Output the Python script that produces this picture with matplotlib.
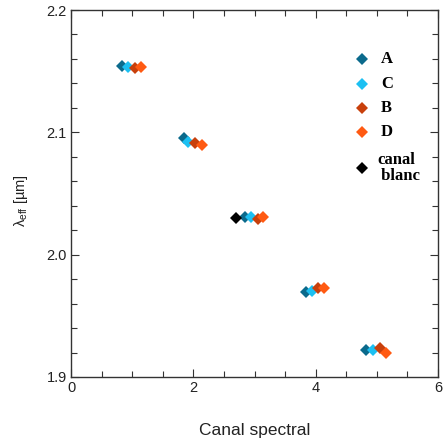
import matplotlib
matplotlib.use("Agg")
import matplotlib.pyplot as plt
from matplotlib.ticker import MultipleLocator, FormatStrFormatter

plt.rcParams["mathtext.fontset"] = "custom"
plt.rcParams["mathtext.rm"] = "Liberation Sans"
plt.rcParams["mathtext.it"] = "Liberation Sans"
plt.rcParams["mathtext.bf"] = "Liberation Sans:bold"

# Data
x_A = [0.84, 1.84, 2.84, 3.84, 4.83]
y_A = [2.1542, 2.0951, 2.0310, 1.9692, 1.9220]
x_C = [0.94, 1.92, 2.94, 3.94, 4.94]
y_C = [2.1532, 2.0923, 2.0310, 1.9702, 1.9220]
x_B = [1.04, 2.03, 3.05, 4.04, 5.05]
y_B = [2.1524, 2.0910, 2.0288, 1.9724, 1.9234]
x_D = [1.15, 2.14, 3.14, 4.14, 5.15]
y_D = [2.1537, 2.0896, 2.0310, 1.9724, 1.9198]
x_blanc = [2.69]
y_blanc = [2.0297]

series = [
    ("A", x_A, y_A, "#0b6a8c"),
    ("C", x_C, y_C, "#1cc0f2"),
    ("B", x_B, y_B, "#c8400c"),
    ("D", x_D, y_D, "#ff5a12"),
    ("canal\n blanc", x_blanc, y_blanc, "#000000"),
]

fig = plt.figure(figsize=(4.43, 4.47), dpi=100)
ax = fig.add_axes([71/443, 70/447, 367/443, 367/447])

for name, xs, ys, c in series:
    ax.plot(xs, ys, linestyle="none", marker="D", markersize=6.5,
            color=c, markeredgewidth=0)

ax.set_xlim(0, 6)
ax.set_ylim(1.9, 2.2)
ax.xaxis.set_major_locator(MultipleLocator(2))
ax.xaxis.set_minor_locator(MultipleLocator(0.5))
ax.yaxis.set_major_locator(MultipleLocator(0.1))
ax.yaxis.set_minor_locator(MultipleLocator(0.02))
ax.yaxis.set_major_formatter(FormatStrFormatter("%.1f"))

ax.tick_params(which="both", direction="in", top=True, right=True,
               colors="#333333", labelcolor="#222222", labelsize=10.5,
               width=0.8)
ax.tick_params(which="major", length=6, pad=3)
ax.tick_params(which="minor", length=4)
for lab in ax.get_xticklabels() + ax.get_yticklabels():
    lab.set_family("Liberation Sans")
for s in ax.spines.values():
    s.set_color("#333333")
    s.set_linewidth(1.0)

ax.set_xlabel("Canal spectral", family="Liberation Sans", fontsize=12.5,
              color="#222222", labelpad=20)
ax.set_ylabel(r"$\lambda_{\rm eff}$ [µm]", fontsize=10.5, color="#222222",
              family="Liberation Sans")
ax.yaxis.set_label_coords(-0.112, 0.48)

# legend drawn manually
leg_y = [0.866, 0.798, 0.733, 0.668, 0.569]
for (name, xs, ys, c), ly in zip(series, leg_y):
    ax.plot([0.793], [ly], transform=ax.transAxes, marker="D", markersize=6,
            color=c, markeredgewidth=0, clip_on=False)
    ax.text(0.845 if "\n" not in name else 0.835, ly, name, transform=ax.transAxes,
            family="Liberation Serif", fontweight="bold", fontsize=12,
            va="center", ha="left", linespacing=0.95)

fig.savefig("out.png", dpi=100)
